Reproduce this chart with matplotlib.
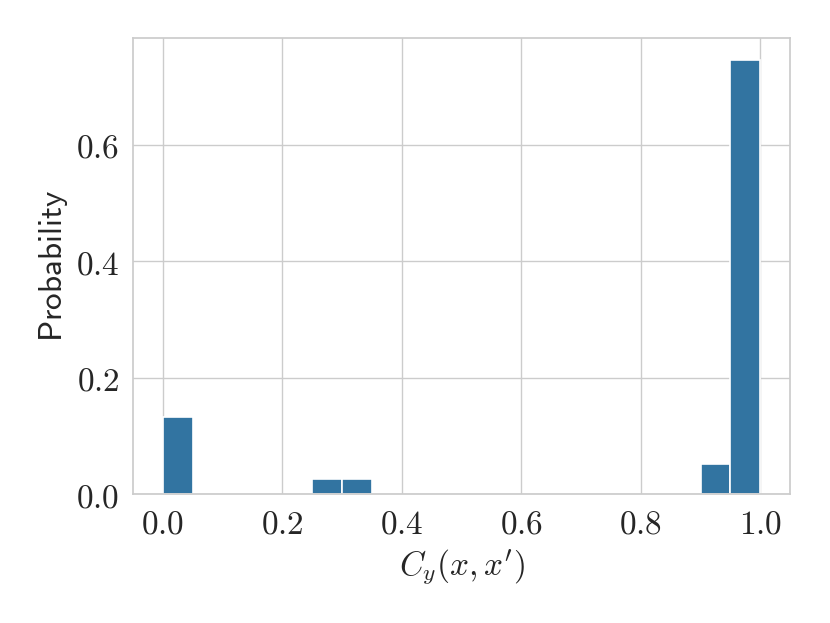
import matplotlib
matplotlib.use("Agg")
import matplotlib.pyplot as plt
import seaborn as sns

sns.set_theme(style="whitegrid")
plt.rcParams["mathtext.fontset"] = "cm"

# histogram bins (width 0.05) and probability per bin
bin_left = [0.00, 0.25, 0.30, 0.90, 0.95]
prob = [0.133, 0.025, 0.025, 0.052, 0.746]
bin_width = 0.05

xticks = [0.0, 0.2, 0.4, 0.6, 0.8, 1.0]
yticks = [0.0, 0.2, 0.4, 0.6]

fig = plt.figure(figsize=(8.3, 6.23), dpi=100)
ax = fig.add_axes([0.160, 0.207, 0.792, 0.732])

ax.bar(bin_left, prob, width=bin_width, align="edge",
       color="#3274a1", edgecolor="white", linewidth=1.2, zorder=2)
ax.set_xlim(-0.05, 1.05)
ax.set_ylim(0, max(prob) * 1.05)

ax.set_xticks(xticks)
ax.set_xticklabels([rf"$\mathrm{{{t:.1f}}}$" for t in xticks], fontsize=24)
ax.set_yticks(yticks)
ax.set_yticklabels([rf"$\mathrm{{{t:.1f}}}$" for t in yticks], fontsize=24)

ax.set_xlabel(r"$C_y(x, x')$", fontsize=24, labelpad=5)
ax.set_ylabel(r"$\mathsf{Probability}$", fontsize=24, labelpad=4.5)

for s in ax.spines.values():
    s.set_color("#cccccc")

fig.savefig("out.png", dpi=100)
